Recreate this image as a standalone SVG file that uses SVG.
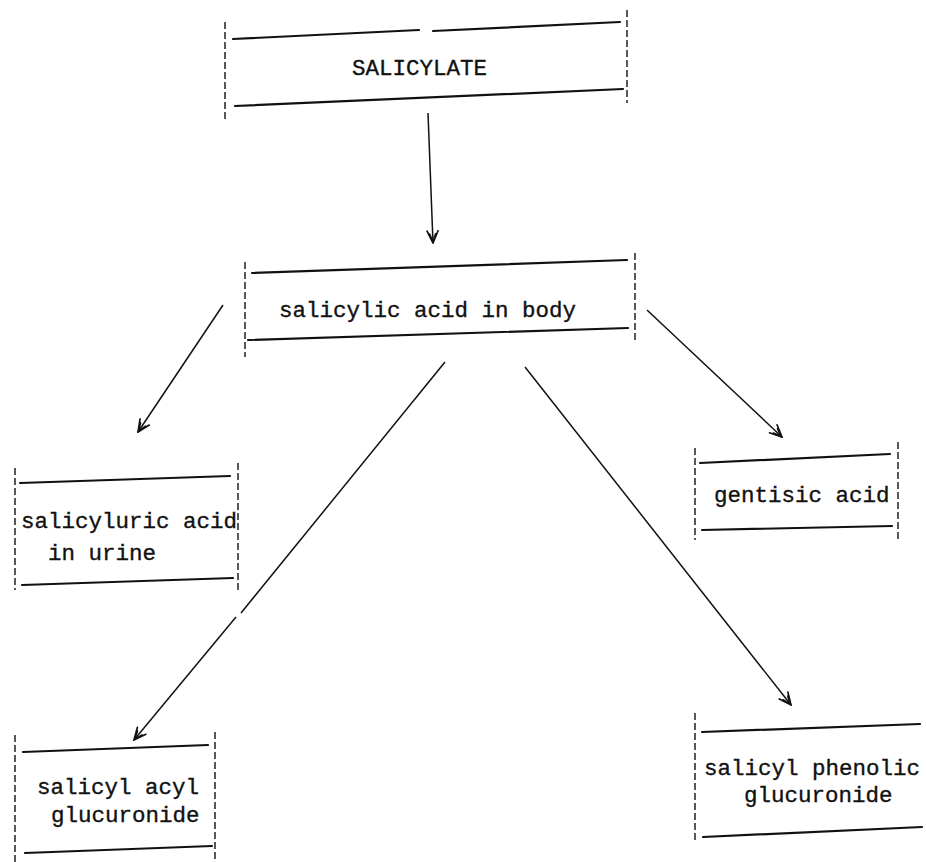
<svg xmlns="http://www.w3.org/2000/svg" width="926" height="862" viewBox="0 0 926 862">
<style>
.bg{fill:#ffffff}
.rule{stroke:#111;stroke-width:2.2;stroke-linecap:round;fill:none}
.dash{stroke:#111;stroke-width:1.4;stroke-dasharray:7 3;fill:none}
.lbl{font-family:"Liberation Mono","DejaVu Sans Mono",monospace;font-size:22.5px;fill:#111;stroke:#111;stroke-width:0.35}
.conn{stroke:#111;stroke-width:1.5;fill:none}
</style>
<defs>
<marker id="arr" markerUnits="userSpaceOnUse" viewBox="0 0 14 14" refX="13" refY="7" markerWidth="14" markerHeight="14" orient="auto">
<path d="M1,1.5 L13,7 L1,12.5 M4,4 L12,7 L4,10" fill="none" stroke="#111" stroke-width="1.7" stroke-linecap="round"/>
</marker>
</defs>
<rect class="bg" x="0" y="0" width="926" height="862"/>

<g id="salicylate">
<line class="dash" x1="225" y1="22" x2="225" y2="120"/>
<line class="dash" x1="627" y1="10" x2="627" y2="103"/>
<line class="rule" x1="233" y1="39" x2="419" y2="30"/>
<line class="rule" x1="433" y1="31" x2="620" y2="22"/>
<line class="rule" x1="235" y1="106" x2="623" y2="89"/>
<text class="lbl" x="352" y="75">SALICYLATE</text>
</g>

<g id="body">
<line class="dash" x1="245" y1="262" x2="245" y2="357"/>
<line class="dash" x1="635" y1="253" x2="635" y2="340"/>
<line class="rule" x1="252" y1="273" x2="627" y2="260"/>
<line class="rule" x1="248" y1="340" x2="628" y2="328"/>
<text class="lbl" x="279" y="317">salicylic acid in body</text>
</g>

<g id="salicyluric">
<line class="dash" x1="15" y1="468" x2="15" y2="590"/>
<line class="dash" x1="238" y1="463" x2="238" y2="590"/>
<line class="rule" x1="20" y1="483" x2="230" y2="476"/>
<line class="rule" x1="22" y1="585" x2="233" y2="578"/>
<text class="lbl"><tspan x="21" y="528">salicyluric acid</tspan><tspan x="48" y="560">in urine</tspan></text>
</g>

<g id="gentisic">
<line class="dash" x1="695" y1="448" x2="695" y2="540"/>
<line class="dash" x1="898" y1="442" x2="898" y2="540"/>
<line class="rule" x1="700" y1="463" x2="890" y2="454"/>
<line class="rule" x1="702" y1="530" x2="892" y2="526"/>
<text class="lbl" x="714" y="502">gentisic acid</text>
</g>

<g id="acyl">
<line class="dash" x1="15" y1="735" x2="15" y2="862"/>
<line class="dash" x1="215" y1="732" x2="215" y2="862"/>
<line class="rule" x1="23" y1="752" x2="208" y2="745"/>
<line class="rule" x1="25" y1="853" x2="212" y2="846"/>
<text class="lbl"><tspan x="37" y="794">salicyl acyl</tspan><tspan x="51" y="822">glucuronide</tspan></text>
</g>

<g id="phenolic">
<line class="dash" x1="695" y1="713" x2="695" y2="840"/>
<line class="rule" x1="702" y1="732" x2="920" y2="724"/>
<line class="rule" x1="703" y1="837" x2="922" y2="827"/>
<text class="lbl"><tspan x="704" y="775">salicyl phenolic</tspan><tspan x="744" y="802">glucuronide</tspan></text>
</g>

<g id="connectors">
<line class="conn" x1="428" y1="113" x2="433" y2="243" marker-end="url(#arr)"/>
<line class="conn" x1="223" y1="305" x2="138" y2="432" marker-end="url(#arr)"/>
<line class="conn" x1="647" y1="310" x2="782" y2="437" marker-end="url(#arr)"/>
<line class="conn" x1="445" y1="362" x2="241" y2="613"/>
<line class="conn" x1="236" y1="617" x2="134" y2="740" marker-end="url(#arr)"/>
<line class="conn" x1="525" y1="367" x2="791" y2="705" marker-end="url(#arr)"/>
</g>
</svg>
